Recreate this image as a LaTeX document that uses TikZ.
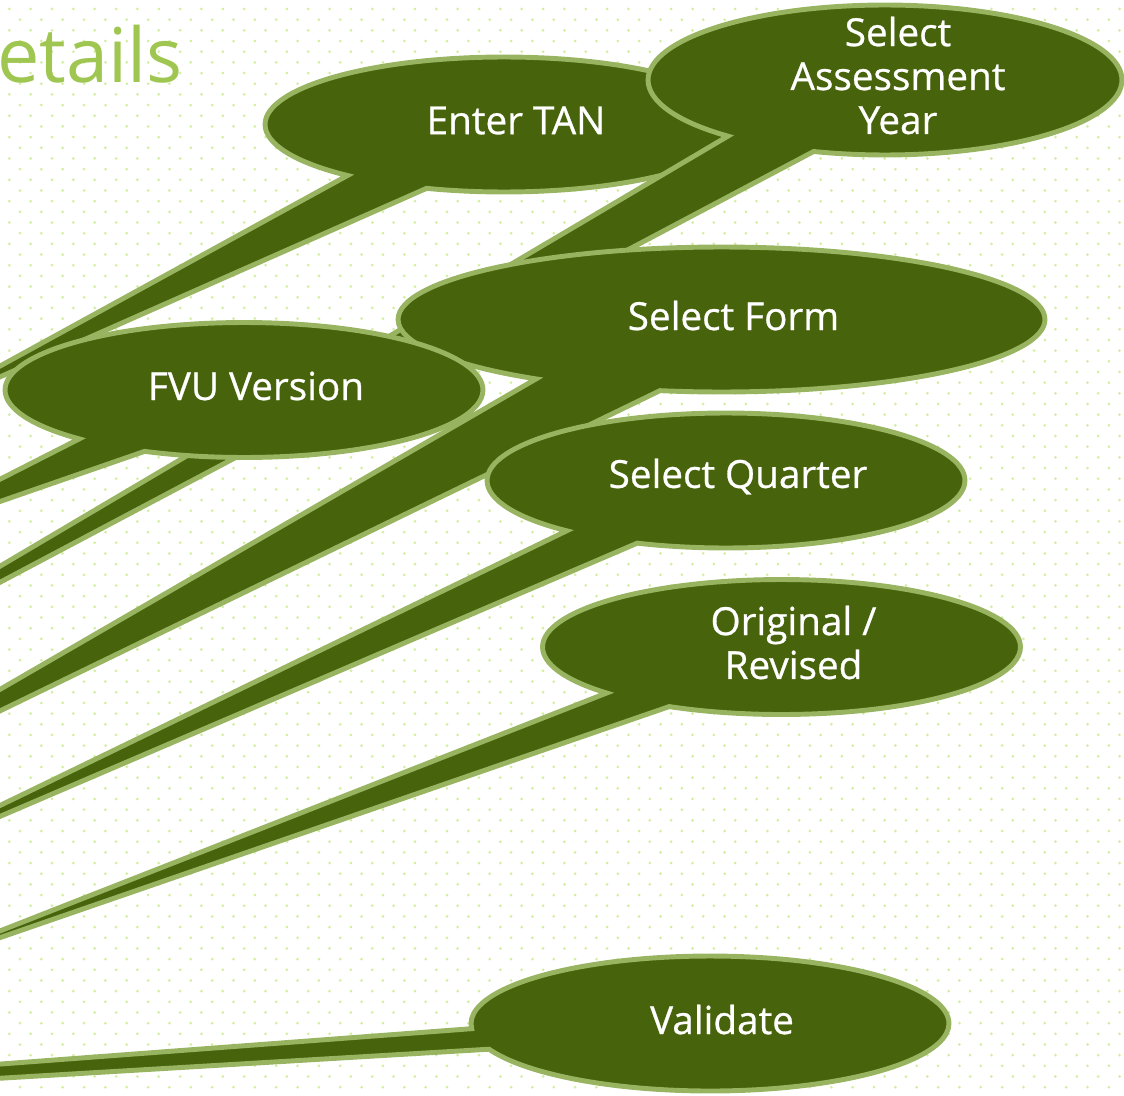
\documentclass[tikz,border=0pt]{standalone}
\usepackage{fontspec}
\setmainfont{Open Sans}
\newfontfamily\bubblefont[FakeBold=0.7]{Open Sans}
\usetikzlibrary{shapes.callouts}

\definecolor{leafgreen}{RGB}{71,99,11}
\definecolor{rimgreen}{RGB}{152,180,96}
\definecolor{dotgreen}{RGB}{210,238,160}
\definecolor{titlegreen}{RGB}{160,198,82}

\tikzset{
  bubble/.style={ellipse callout, fill=leafgreen, draw=rimgreen, line width=2.8pt,
    minimum width=9.56cm, minimum height=2.7cm, inner sep=0pt},
  bubbletext/.style={text=white, align=center, inner sep=0pt,
    font=\bubblefont\fontsize{22}{25}\selectfont}
}

\begin{document}
\begin{tikzpicture}[x=0.02cm,y=-0.02cm]

\useasboundingbox (0,0) rectangle (1124,1095);
\clip (0,0) rectangle (1124,1095);

% dotted backdrop
\foreach \i in {0,...,52} {
  \foreach \j in {0,...,51} {
    \fill[dotgreen] ({9.3+21.35*\i},{9+21.35*\j}) circle (0.03cm);
    \fill[dotgreen] ({20+21.35*\i},{19.7+21.35*\j}) circle (0.03cm);
  }
}

\node[anchor=base west, inner sep=0pt, text=titlegreen, font=\fontsize{43}{48}\selectfont] (title) at (-3,83) {etails};

% callouts, back to front
\node[bubble, callout absolute pointer={(-102,422)}, callout pointer arc=22] (tanbox) at (504,124.5) {};
\node[bubble, minimum width=9.48cm, minimum height=3cm, callout absolute pointer={(-262,721)}, callout pointer arc=24] (yearbox) at (885,80) {};
\node[bubble, minimum width=12.94cm, minimum height=2.9cm, callout absolute pointer={(-229,822)}, callout pointer arc=24] (formbox) at (721.5,319.5) {};
\node[bubble, callout absolute pointer={(-137,549)}, callout pointer arc=19] (fvubox) at (244,390) {};
\node[bubble, callout absolute pointer={(-195,900)}, callout pointer arc=20] (qtrbox) at (726,480.5) {};
\node[bubble, callout absolute pointer={(-143,987)}, callout pointer arc=19] (origbox) at (781.5,647) {};
\node[bubble, callout absolute pointer={(-905,1132)}, callout pointer arc=18] (valbox) at (710,1023.5) {};

\node[bubbletext] (tan) at ([shift={(0.24cm,0.08cm)}]tanbox.center) {Enter TAN};
\node[bubbletext] (year) at ([shift={(0.26cm,0.09cm)}]yearbox.center) {Select\\Assessment\\Year};
\node[bubbletext] (form) at ([shift={(0.24cm,0.08cm)}]formbox.center) {Select Form};
\node[bubbletext] (fvu) at ([shift={(0.24cm,0.08cm)}]fvubox.center) {FVU Version};
\node[bubbletext] (qtr) at ([shift={(0.24cm,0.08cm)}]qtrbox.center) {Select Quarter};
\node[bubbletext] (orig) at ([shift={(0.24cm,0.09cm)}]origbox.center) {Original /\\Revised};
\node[bubbletext] (val) at ([shift={(0.24cm,0.08cm)}]valbox.center) {Validate};

\end{tikzpicture}
\end{document}
